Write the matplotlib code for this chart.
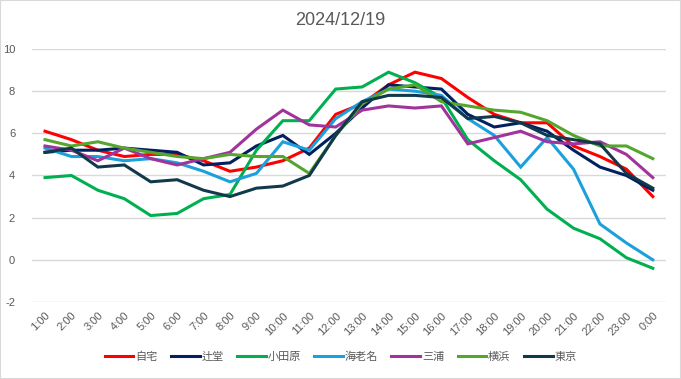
import matplotlib
matplotlib.use('Agg')
import matplotlib.pyplot as plt
from matplotlib.patches import Rectangle

# 時刻ラベル
hours = ['1:00', '2:00', '3:00', '4:00', '5:00', '6:00', '7:00', '8:00',
         '9:00', '10:00', '11:00', '12:00', '13:00', '14:00', '15:00', '16:00',
         '17:00', '18:00', '19:00', '20:00', '21:00', '22:00', '23:00', '0:00']

# 地点ごとの気温
jitaku = [6.1, 5.7, 5.2, 4.9, 5.0, 5.0, 4.7, 4.2, 4.4, 4.7, 5.3, 6.9,
          7.4, 8.3, 8.9, 8.6, 7.7, 6.9, 6.5, 6.5, 5.4, 4.9, 4.3, 3.0]
tsujido = [5.1, 5.2, 5.2, 5.3, 5.2, 5.1, 4.5, 4.6, 5.4, 5.9, 5.0, 6.0,
           7.2, 8.3, 8.2, 8.1, 6.9, 6.3, 6.5, 6.1, 5.2, 4.4, 4.0, 3.3]
odawara = [3.9, 4.0, 3.3, 2.9, 2.1, 2.2, 2.9, 3.1, 5.2, 6.6, 6.6, 8.1,
           8.2, 8.9, 8.4, 7.7, 5.7, 4.7, 3.8, 2.4, 1.5, 1.0, 0.1, -0.4]
ebina = [5.3, 4.9, 4.9, 4.7, 4.8, 4.6, 4.2, 3.7, 4.1, 5.6, 5.2, 6.7,
         7.5, 8.1, 8.0, 7.8, 6.7, 5.9, 4.4, 5.8, 4.3, 1.7, 0.8, 0.0]
miura = [5.4, 5.2, 4.7, 5.3, 4.8, 4.5, 4.8, 5.1, 6.2, 7.1, 6.4, 6.3,
         7.1, 7.3, 7.2, 7.3, 5.5, 5.8, 6.1, 5.6, 5.5, 5.6, 5.0, 3.9]
yokohama = [5.7, 5.4, 5.6, 5.3, 5.1, 4.9, 4.8, 5.0, 4.9, 4.9, 4.1, 5.9,
            7.4, 8.1, 8.3, 7.5, 7.3, 7.1, 7.0, 6.6, 5.9, 5.4, 5.4, 4.8]
tokyo = [5.1, 5.3, 4.4, 4.5, 3.7, 3.8, 3.3, 3.0, 3.4, 3.5, 4.0, 5.9,
         7.5, 7.8, 7.8, 7.7, 6.7, 6.8, 6.5, 5.9, 5.7, 5.5, 4.1, 3.4]

names = ['自宅', '辻堂', '小田原', '海老名', '三浦', '横浜', '東京']
colors = ['#FF0000', '#002060', '#00B050', '#1CA0DC', '#A0349C', '#55A62E', '#11394B']
series = [jitaku, tsujido, odawara, ebina, miura, yokohama, tokyo]

plt.rcParams['font.family'] = ['Noto Sans CJK JP', 'DejaVu Sans']
plt.rcParams['axes.unicode_minus'] = False

fig = plt.figure(figsize=(6.81, 3.79), dpi=100)
ax = fig.add_axes([0.0467, 0.2032, 0.9313, 0.6675])

x = list(range(len(hours)))
for vals, name, col in zip(series, names, colors):
    ax.plot(x, vals, color=col, lw=2.2, label=name, solid_joinstyle='miter')

ax.set_xlim(-0.5, len(hours) - 0.5)
ax.set_ylim(-2, 10)
ax.set_yticks(range(-2, 11, 2))
ax.set_xticks(x)
ax.set_xticklabels(hours, rotation=45, ha='right', rotation_mode='anchor')
ax.tick_params(axis='both', length=0, labelsize=8, labelcolor='#595959')
ax.tick_params(axis='x', pad=6)
ax.tick_params(axis='y', pad=12)
for lbl in ax.get_xticklabels():
    lbl.set_family(['Liberation Sans', 'DejaVu Sans'])
for lbl in ax.get_yticklabels():
    lbl.set_family(['Liberation Sans', 'DejaVu Sans'])
ax.grid(axis='y', color='#D9D9D9', lw=1)
ax.set_axisbelow(True)
for s in ax.spines.values():
    s.set_visible(False)

fig.text(0.5, 0.945, '2024/12/19', ha='center', va='center', fontsize=13,
         color='#595959', family=['Liberation Sans', 'DejaVu Sans'])

leg = fig.legend(loc='center', bbox_to_anchor=(0.5, 0.058), ncol=7, frameon=False,
                 fontsize=8, handlelength=2.6, columnspacing=1.2, handletextpad=0.15)
for t in leg.get_texts():
    t.set_color('#595959')

fig.patches.append(Rectangle((0, 0), 1, 1, transform=fig.transFigure,
                             fill=False, edgecolor='#D9D9D9', lw=1.5))

fig.savefig('out.png', dpi=100)
